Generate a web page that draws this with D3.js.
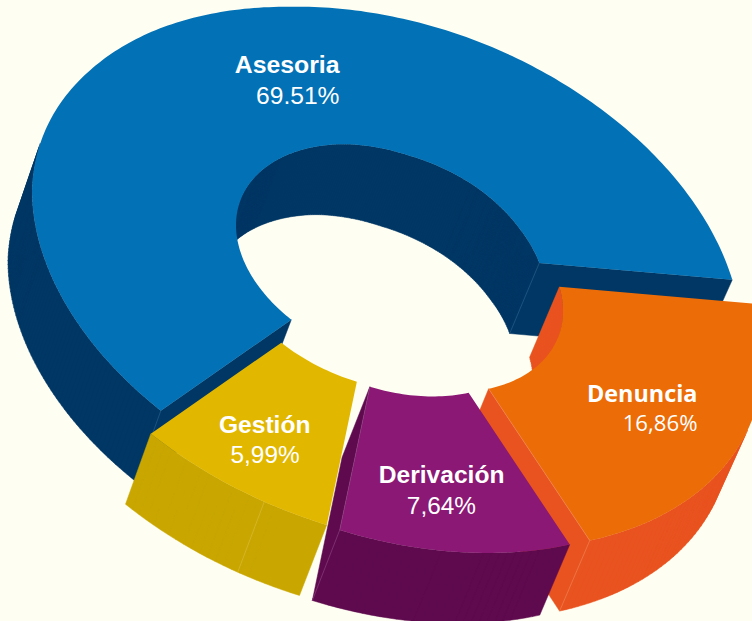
<!DOCTYPE html>
<html><head><meta charset="utf-8">
<script src="https://cdn.jsdelivr.net/npm/d3@7"></script>
<style>html,body{margin:0;padding:0;background:#fffef2;overflow:hidden}svg{display:block}</style>
</head><body><svg id="c" width="752" height="621"></svg>
<script>
const categories = ["Asesoria","Gestión","Derivación","Denuncia"];
const values = [69.51,5.99,7.64,16.86];
const valueLabels = ["69.51%","5,99%","7,64%","16,86%"];

// styling / layout
const topColors  = ["#0271b5","#e2b700","#8a1874","#ec6c08"];
const wallColors = ["#003764","#c9a600","#5f0a4e","#e9531f"];
const seamColors = ["#2f6590","#dcc040","#8f4a85","#f08a5e"];
const slideOut = [[0,0],[-10,23],[3,28],[23,24]];
const drawOrder = [0,3,1,2];
const nameAnchor  = [[339.5,72.7],[310.5,432.7],[504.5,482.7],[697.5,401.7]];
const valueAnchor = [[339.5,103.5],[299.7,463],[476,514],[697.5,431]];
const nameFont  = [["Liberation Sans",24.8],["Liberation Sans",24.6],["Liberation Sans",24.6],["Open Sans",23.4]];
const valueFont = [["Liberation Sans",24.6],["Liberation Sans",24.4],["Liberation Sans",24.4],["Open Sans",22.2]];
// tilted-ring camera: each ring is an ellipse, x = cx + a*u, y = cy + b*u + c*v
const outerRing = {cx:386,cy:263,a:354,b:73,c:251.6};
const innerRing = {cx:388,cy:256,a:152,b:31,c:108.1};
const viewAngles = [-12.5,-230.5,-262,-300.7,-372.5];
const outerTrim = d3.scaleLinear().domain([-180,-147,-107,-74,-42,-12]).range([1,.986,.978,.991,.997,1.002]).clamp(true);
const innerTrim = d3.scaleLinear().domain([-180,-107,-82,-56,-30,-12]).range([1,.995,.978,.99,1,1.02]).clamp(true);
const depth = p => [-24-(p[0]-30)*0.011, 70.5];

const svg=d3.select("#c");
const pie=d3.pie().sort(null).startAngle(0).endAngle(2*Math.PI);
const arcs=pie(values);
const toView=d3.scaleLinear()
  .domain([0,arcs[0].endAngle,arcs[1].endAngle,arcs[2].endAngle,2*Math.PI])
  .range(viewAngles);
const line=d3.line();
const STEP=Math.PI/180;
const onRing=(ring,trim,a)=>{const deg=toView(a),t=deg*Math.PI/180,r=trim(deg),u=r*Math.cos(t),v=r*Math.sin(t);
  return [ring.cx+ring.a*u, ring.cy+ring.b*u+ring.c*v];};

function slice(i){
  const {startAngle:a0,endAngle:a1}=arcs[i],[sx,sy]=slideOut[i];
  const n=Math.max(2,Math.ceil((a1-a0)/STEP));
  const ang=d3.range(n+1).map(k=>a0+(a1-a0)*k/n);
  const O=a=>{const p=onRing(outerRing,outerTrim,a);return [p[0]+sx,p[1]+sy];};
  const I=a=>{const p=onRing(innerRing,innerTrim,a);return [p[0]+sx,p[1]+sy];};
  return {outer:ang.map(O),inner:ang.map(I),O,I,a0,a1,center:[innerRing.cx+sx,innerRing.cy+sy]};
}
const shift=p=>{const d=depth(p);return [p[0]+d[0],p[1]+d[1]];};
const quad=(p,q)=>line([p,q,shift(q),shift(p)])+"Z";
const facing=(p,q,c)=>{const nx=q[1]-p[1],ny=-(q[0]-p[0]);
  const mx=(p[0]+q[0])/2-c[0],my=(p[1]+q[1])/2-c[1];
  const s=(nx*mx+ny*my)>0?1:-1;const d=depth(p);return s*(nx*d[0]+ny*d[1]);};
const seam=(g,p,q,col)=>g.append("path").attr("d",line([p,q])).attr("stroke",col).attr("stroke-width",0.6).attr("fill","none");

drawOrder.forEach(i=>{
  const s=slice(i),g=svg.append("g"),wall=wallColors[i];
  let d="";
  const cuts=[[s.a0,s.a0+0.05],[s.a1,s.a1-0.05]];
  const visibleCuts=[];
  cuts.forEach(([a,towards])=>{
    const p=s.I(a),q=s.O(a);
    const mat=[(s.I(towards)[0]+s.O(towards)[0])/2,(s.I(towards)[1]+s.O(towards)[1])/2];
    if(facing(p,q,mat)>0){d+=quad(p,q);visibleCuts.push(a);}
  });
  d3.pairs(s.inner).forEach(([p,q])=>{ if(facing(p,q,s.center)<0)d+=quad(p,q); });
  d3.pairs(s.outer).forEach(([p,q])=>{ if(facing(p,q,s.center)>0)d+=quad(p,q); });
  g.append("path").attr("d",d).attr("fill",wall).attr("stroke",wall).attr("stroke-width",0.5).attr("stroke-linejoin","round");
  g.append("path").attr("d",line(s.outer.concat(s.inner.slice().reverse()))+"Z").attr("fill",topColors[i]);
  // faint corner seams where a cut face meets a curved wall
  visibleCuts.forEach(a=>{
    const p=s.O(a); if(i!==0||a===s.a1) seam(g,p,shift(p),seamColors[i]);
    if(i===0&&a===s.a0){const q=s.I(a);seam(g,q,shift(q),seamColors[i]);}
    if(i>=2) seam(g,s.I(a),s.O(a),seamColors[i]);
  });
  if(i===1){const p=s.O(s.a0+(s.a1-s.a0)*0.67);seam(g,p,shift(p),seamColors[i]);}
});

categories.forEach((c,i)=>{
  const t=svg.append("g").attr("fill","#ffffff").attr("text-anchor","end");
  t.append("text").attr("x",nameAnchor[i][0]).attr("y",nameAnchor[i][1])
    .attr("font-family",`'${nameFont[i][0]}',sans-serif`).attr("font-weight","bold").attr("font-size",nameFont[i][1]).text(c);
  t.append("text").attr("x",valueAnchor[i][0]).attr("y",valueAnchor[i][1])
    .attr("font-family",`'${valueFont[i][0]}',sans-serif`).attr("font-size",valueFont[i][1]).text(valueLabels[i]);
});
</script></body></html>
